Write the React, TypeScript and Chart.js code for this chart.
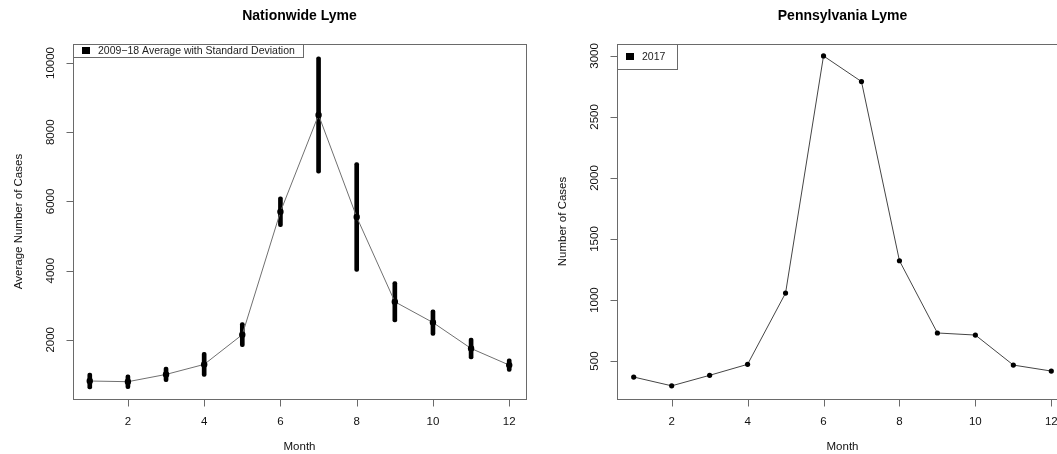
import React, { useEffect, useRef } from "react";
import { Chart, registerables } from "chart.js";

Chart.register(...registerables);

// ---------- data ----------
const months = [1, 2, 3, 4, 5, 6, 7, 8, 9, 10, 11, 12];
const nationalMeans = [810, 790, 1000, 1290, 2150, 5700, 8500, 5550, 3100, 2500, 1750, 1270];
const nationalSD = [230, 200, 210, 350, 350, 430, 1680, 1570, 580, 370, 300, 180];
const paCases = [369, 297, 383, 473, 1057, 3000, 2790, 1322, 730, 713, 467, 418];
const xTickValues = [2, 4, 6, 8, 10, 12];
const nationalYTicks = [2000, 4000, 6000, 8000, 10000];
const paYTicks = [500, 1000, 1500, 2000, 2500, 3000];

const FONT = "'Liberation Sans', Arial, Helvetica, sans-serif";

type PanelCfg = {
  title: string;
  yTitle: string;
  xTitle: string;
  yTicks: number[];
  xTicks: number[];
  legendText: string;
  legendW: number;
  legendH: number;
};

function makeFramePlugin(cfg: PanelCfg) {
  return {
    id: "rframe",
    afterDraw(chart: any) {
      const { ctx, chartArea: a, scales } = chart;
      const xs = scales.x;
      const ys = scales.y;
      ctx.save();
      // plot box
      ctx.strokeStyle = "#6a6a6a";
      ctx.lineWidth = 1;
      ctx.strokeRect(Math.round(a.left) + 0.5, Math.round(a.top) + 0.5, Math.round(a.right - a.left), Math.round(a.bottom - a.top));

      const tickLen = 7;
      ctx.fillStyle = "#111";
      // x axis
      const bx = Math.round(a.bottom) + 0.5;
      ctx.beginPath();
      ctx.moveTo(Math.round(xs.getPixelForValue(cfg.xTicks[0])) + 0.5, bx);
      ctx.lineTo(Math.round(xs.getPixelForValue(cfg.xTicks[cfg.xTicks.length - 1])) + 0.5, bx);
      for (const t of cfg.xTicks) {
        const px = Math.round(xs.getPixelForValue(t)) + 0.5;
        ctx.moveTo(px, bx);
        ctx.lineTo(px, bx + tickLen);
      }
      ctx.stroke();
      ctx.font = `11.5px ${FONT}`;
      ctx.textAlign = "center";
      ctx.textBaseline = "middle";
      for (const t of cfg.xTicks) {
        ctx.fillText(String(t), xs.getPixelForValue(t), a.bottom + 23);
      }
      ctx.fillText(cfg.xTitle, (a.left + a.right) / 2, a.bottom + 48);

      // y axis
      const lx = Math.round(a.left) + 0.5;
      ctx.beginPath();
      ctx.moveTo(lx, Math.round(ys.getPixelForValue(cfg.yTicks[0])) + 0.5);
      ctx.lineTo(lx, Math.round(ys.getPixelForValue(cfg.yTicks[cfg.yTicks.length - 1])) + 0.5);
      for (const t of cfg.yTicks) {
        const py = Math.round(ys.getPixelForValue(t)) + 0.5;
        ctx.moveTo(lx, py);
        ctx.lineTo(lx - tickLen, py);
      }
      ctx.stroke();
      for (const t of cfg.yTicks) {
        ctx.save();
        ctx.translate(a.left - 22, ys.getPixelForValue(t));
        ctx.rotate(-Math.PI / 2);
        ctx.fillText(String(t), 0, 0);
        ctx.restore();
      }
      ctx.save();
      ctx.translate(a.left - 54, (a.top + a.bottom) / 2);
      ctx.rotate(-Math.PI / 2);
      ctx.fillText(cfg.yTitle, 0, 0);
      ctx.restore();

      // title
      ctx.font = `bold 14px ${FONT}`;
      ctx.fillStyle = "#000";
      ctx.fillText(cfg.title, (a.left + a.right) / 2, 16);

      // legend
      const lxl = Math.round(a.left) + 0.5;
      const lyt = Math.round(a.top) + 0.5;
      ctx.fillStyle = "#fff";
      ctx.fillRect(lxl, lyt, cfg.legendW, cfg.legendH);
      ctx.strokeRect(lxl, lyt, cfg.legendW, cfg.legendH);
      ctx.fillStyle = "#000";
      ctx.fillRect(a.left + 9, a.top + cfg.legendH / 2 - 3.5, 8, 7);
      ctx.fillStyle = "#222";
      ctx.font = `10.5px ${FONT}`;
      ctx.textAlign = "left";
      ctx.fillText(cfg.legendText, a.left + 25, a.top + cfg.legendH / 2 + 0.5);
      ctx.restore();
    },
  };
}

function Panel(props: {
  left: number;
  width: number;
  padding: { left: number; right: number; top: number; bottom: number };
  yMin: number;
  yMax: number;
  datasets: any[];
  cfg: PanelCfg;
}) {
  const ref = useRef<HTMLCanvasElement | null>(null);
  useEffect(() => {
    if (!ref.current) return;
    const chart = new Chart(ref.current, {
      type: "line",
      data: { datasets: props.datasets },
      options: {
        responsive: false,
        animation: false,
        events: [],
        devicePixelRatio: 1,
        layout: { padding: props.padding },
        plugins: {
          legend: { display: false },
          title: { display: false },
          tooltip: { enabled: false },
        },
        scales: {
          x: { type: "linear", min: 0.56, max: 12.44, offset: false, display: false },
          y: { type: "linear", min: props.yMin, max: props.yMax, display: false },
        },
      } as any,
      plugins: [makeFramePlugin(props.cfg)],
    });
    return () => chart.destroy();
  }, []);
  return (
    <canvas
      ref={ref}
      width={props.width}
      height={454}
      style={{ position: "absolute", left: props.left, top: 0, width: props.width, height: 454 }}
    />
  );
}

export default function App() {
  const nationalLine = {
    type: "line",
    data: months.map((m, i) => ({ x: m, y: nationalMeans[i] })),
    borderColor: "#707070",
    borderWidth: 1,
    pointRadius: 3.2,
    pointBackgroundColor: "#000",
    pointBorderColor: "#000",
    pointBorderWidth: 0,
    tension: 0,
    order: 1,
  };
  const nationalBars = {
    type: "bar",
    data: months.map((m, i) => ({ x: m, y: [nationalMeans[i] - nationalSD[i], nationalMeans[i] + nationalSD[i]] })),
    backgroundColor: "#000",
    borderWidth: 0,
    borderRadius: 2,
    borderSkipped: false,
    barThickness: 4,
    order: 2,
  };
  const paLine = {
    type: "line",
    data: months.map((m, i) => ({ x: m, y: paCases[i] })),
    borderColor: "#454545",
    borderWidth: 1,
    pointRadius: 2.6,
    pointBackgroundColor: "#000",
    pointBorderColor: "#000",
    pointBorderWidth: 0,
    tension: 0,
  };

  return (
    <div
      style={{
        position: "fixed",
        left: 0,
        top: 0,
        width: 1057,
        height: 454,
        overflow: "hidden",
        background: "#fff",
      }}
    >
      <Panel
        left={0}
        width={545}
        padding={{ left: 73, right: 19, top: 44, bottom: 55 }}
        yMin={290}
        yMax={10550}
        datasets={[nationalBars, nationalLine]}
        cfg={{
          title: "Nationwide Lyme",
          yTitle: "Average Number of Cases",
          xTitle: "Month",
          yTicks: nationalYTicks,
          xTicks: xTickValues,
          legendText: "2009\u221218 Average with Standard Deviation",
          legendW: 230,
          legendH: 13,
        }}
      />
      <Panel
        left={545}
        width={545}
        padding={{ left: 72, right: 22, top: 44, bottom: 55 }}
        yMin={189}
        yMax={3098}
        datasets={[paLine]}
        cfg={{
          title: "Pennsylvania Lyme",
          yTitle: "Number of Cases",
          xTitle: "Month",
          yTicks: paYTicks,
          xTicks: xTickValues,
          legendText: "2017",
          legendW: 60,
          legendH: 25,
        }}
      />
    </div>
  );
}
